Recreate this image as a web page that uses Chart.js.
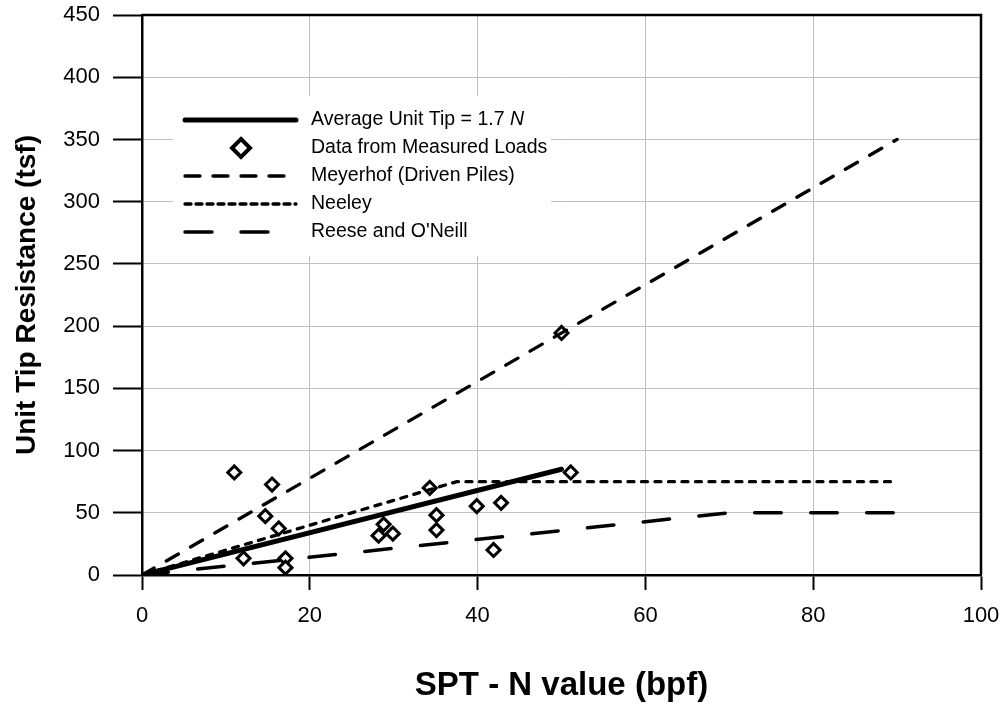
<!DOCTYPE html>
<html>
<head>
<meta charset="utf-8">
<script src="https://cdn.jsdelivr.net/npm/chart.js@4.4.1/dist/chart.umd.min.js"></script>
<style>
  body { margin: 0; background: #fff; }
  #wrap { width: 1003px; height: 706px; }
</style>
</head>
<body>
<div id="wrap"><canvas id="myChart" width="1003" height="706"></canvas></div>
<script>
// DATA : ---------------------------------------------------

// measured loads (N, tip resistance tsf)
const measuredN = [11.0, 15.5, 14.7, 16.3, 12.1, 17.1, 17.1, 28.8, 28.2, 29.9, 34.3, 35.1, 35.1, 39.9, 42.8, 41.9, 51.1, 50.0];
const measuredTip = [82.4, 72.7, 47.3, 37.4, 13.4, 13.4, 5.9, 40.7, 31.6, 33.2, 70.0, 48.1, 36.1, 55.3, 58.0, 20.1, 82.4, 194.5];

// design lines
const averageN = [0, 50];
const averageTip = [0, 85];
const meyerhofN = [0, 90];
const meyerhofTip = [0, 350];
const neeleyN = [0, 37.5, 90];
const neeleyTip = [0, 75, 75];
const reeseN = [0, 70, 90];
const reeseTip = [0, 50, 50];

const xTicks = [0, 20, 40, 60, 80, 100];
const yTicks = [0, 50, 100, 150, 200, 250, 300, 350, 400, 450];

const legendLabels = ['Average Unit Tip = 1.7 ', 'Data from Measured Loads', 'Meyerhof (Driven Piles)', 'Neeley', "Reese and O'Neill"];

const FONT = 'Arial, "Liberation Sans", sans-serif';

// FUNCTIONS : ---------------------------------------------------

function toPoints(xs, ys) {
    return xs.map((x, i) => ({ x: x, y: ys[i] }));
}

// frame on top and right of the plot
const framePlugin = {
    id: 'frame',
    beforeDatasetsDraw(chart) {
        const a = chart.chartArea;
        const c = chart.ctx;
        c.save();
        c.strokeStyle = '#000';
        c.lineWidth = 2.5;
        c.beginPath();
        c.moveTo(a.left, a.top);
        c.lineTo(a.right, a.top);
        c.lineTo(a.right, a.bottom);
        c.stroke();
        c.restore();
    }
};

// hand drawn legend (italic N in first label)
const legendPlugin = {
    id: 'myLegend',
    afterDraw(chart) {
        const c = chart.ctx;
        c.save();
        c.fillStyle = '#fff';
        c.fillRect(173, 96, 378, 160);

        const x0 = 185, x1 = 296, tx = 311;
        const rows = [120, 148, 176, 204, 232];
        c.strokeStyle = '#000';
        c.fillStyle = '#000';
        c.lineCap = 'round';

        // solid
        c.lineWidth = 5;
        c.beginPath(); c.moveTo(x0, rows[0]); c.lineTo(x1, rows[0]); c.stroke();

        // diamond
        c.lineWidth = 4;
        c.fillStyle = '#fff';
        c.beginPath();
        c.moveTo(241, rows[1] - 9); c.lineTo(250, rows[1]); c.lineTo(241, rows[1] + 9); c.lineTo(232, rows[1]);
        c.closePath(); c.fill(); c.stroke();
        c.fillStyle = '#000';

        // dashed samples
        const dashes = [[15, 13], [6, 5], [27, 29]];
        const widths = [3.3, 3.3, 3.5];
        for (let i = 0; i < 3; i++) {
            c.lineWidth = widths[i];
            c.setLineDash(dashes[i]);
            c.beginPath(); c.moveTo(x0, rows[i + 2]); c.lineTo(x1, rows[i + 2]); c.stroke();
        }
        c.setLineDash([]);

        c.font = '19.5px ' + FONT;
        c.textBaseline = 'middle';
        c.textAlign = 'left';
        c.fillText(legendLabels[0], tx, rows[0]);
        const w = c.measureText(legendLabels[0]).width;
        c.font = 'italic 19.5px ' + FONT;
        c.fillText('N', tx + w, rows[0]);
        c.font = '19.5px ' + FONT;
        for (let i = 1; i < 5; i++) {
            c.fillText(legendLabels[i], tx, rows[i]);
        }
        c.restore();
    }
};

function lineSet(label, xs, ys, width, dash, order) {
    return {
        type: 'line',
        label: label,
        data: toPoints(xs, ys),
        borderColor: '#000',
        borderWidth: width,
        borderDash: dash,
        borderCapStyle: 'round',
        pointRadius: 0,
        tension: 0,
        fill: false,
        order: order
    };
}

// CHART : ---------------------------------------------------

const ctx = document.getElementById('myChart');

new Chart(ctx, {
    type: 'scatter',
    data: {
        datasets: [
            lineSet(legendLabels[0], averageN, averageTip, 5, [], 1),
            {
                label: legendLabels[1],
                data: toPoints(measuredN, measuredTip),
                pointStyle: 'rectRot',
                pointRadius: 6.5,
                pointBorderWidth: 3,
                pointBackgroundColor: '#fff',
                pointBorderColor: '#000',
                showLine: false,
                order: 6
            },
            lineSet(legendLabels[2], meyerhofN, meyerhofTip, 3.3, [14, 14], 2),
            lineSet(legendLabels[3], neeleyN, neeleyTip, 3.3, [6, 7.5], 3),
            lineSet(legendLabels[4], reeseN, reeseTip, 3.5, [26.5, 29.5], 4)
        ]
    },
    options: {
        responsive: false,
        animation: false,
        layout: { padding: { left: 0, right: 22, top: 15, bottom: 0 } },
        plugins: {
            legend: { display: false },
            tooltip: { enabled: false }
        },
        scales: {
            x: {
                type: 'linear',
                min: 0,
                max: 100,
                afterFit: (s) => { s.height = 131; s.paddingLeft = 0; s.paddingRight = 0; },
                afterBuildTicks: (s) => { s.ticks = xTicks.map(v => ({ value: v })); },
                ticks: { font: { size: 22, family: FONT }, color: '#000', padding: 13 },
                grid: { color: '#c0c0c0', lineWidth: 1, tickColor: '#000', tickLength: 15, tickWidth: 2 },
                border: { color: '#000', width: 2.5 },
                title: {
                    display: true,
                    text: 'SPT - N value (bpf)',
                    color: '#000',
                    font: { size: 33, weight: 'bold', family: FONT },
                    padding: { top: 0, bottom: 0 }
                }
            },
            y: {
                min: 0,
                max: 450,
                afterFit: (s) => { s.width = 142; s.paddingTop = 0; s.paddingBottom = 0; },
                afterBuildTicks: (s) => { s.ticks = yTicks.map(v => ({ value: v })); },
                ticks: { font: { size: 22, family: FONT }, color: '#000', padding: 13 },
                grid: { color: '#c0c0c0', lineWidth: 1, tickColor: '#000', tickLength: 29, tickWidth: 2 },
                border: { color: '#000', width: 2.5 },
                title: {
                    display: true,
                    text: 'Unit Tip Resistance (tsf)',
                    color: '#000',
                    font: { size: 28, weight: 'bold', family: FONT },
                    padding: { top: 10, bottom: 0 }
                }
            }
        }
    },
    plugins: [framePlugin, legendPlugin]
});
</script>
</body>
</html>
